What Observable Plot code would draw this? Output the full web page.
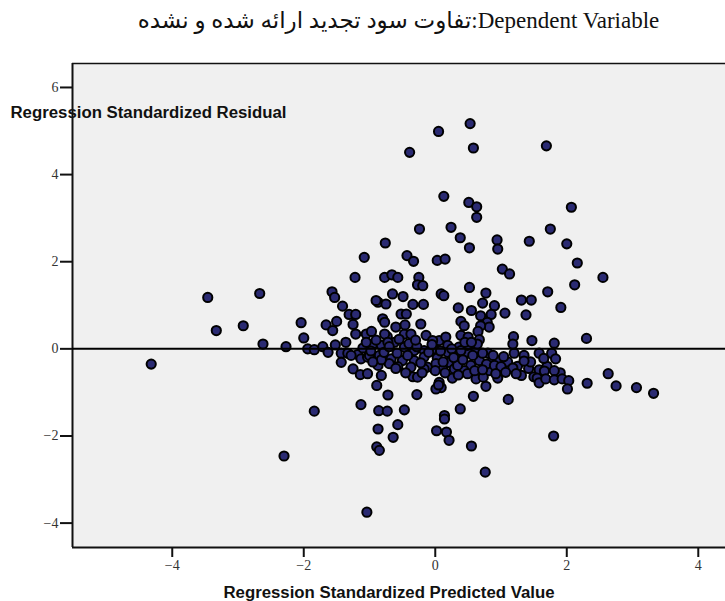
<!DOCTYPE html>
<html>
<head>
<meta charset="utf-8">
<script src="https://cdn.jsdelivr.net/npm/d3@7"></script>
<script src="https://cdn.jsdelivr.net/npm/@observablehq/plot@0.6"></script>
<style>
  html, body { margin: 0; padding: 0; background: #fff; }
  #title {
    height: 40px; line-height: 42px; box-sizing: border-box;
    padding-left: 72px; text-align: center; direction: ltr;
    font-family: "Liberation Serif", "DejaVu Serif", "DejaVu Sans", serif;
    font-size: 23px; color: #111; white-space: nowrap;
  }
  svg { display: block; }
</style>
</head>
<body>
<div id="title"></div>
<div id="chart"></div>
<script>
const titleText = "تفاوت سود تجدید ارائه شده و نشده:Dependent Variable";
const xLabel = "Regression Standardized Predicted Value";
const yLabel = "Regression Standardized Residual";
const xTicks = [-4, -2, 0, 2, 4];
const yTicks = [-4, -2, 0, 2, 4, 6];
const xDomain = [-5.517, 4.414];
const yDomain = [-4.56, 6.55];

// [predicted, residual] pairs, read region by region
const leftPoints = [
  [-4.32,-0.35],[-3.46,1.18],[-3.33,0.42],[-2.92,0.53],[-2.67,1.27],[-2.62,0.11],[-2.27,0.05],[-2.30,-2.46],
  [-2.04,0.60],[-2.00,0.25],[-1.84,-1.43],[-1.94,0.00],[-1.84,-0.02],[-1.71,0.05],[-1.63,-0.08],[-1.66,0.55],
  [-1.56,0.42],[-1.50,0.63],[-1.52,0.09],[-1.43,-0.10],[-1.43,-0.31],[-1.36,0.15],[-1.33,-0.10],[-1.25,-0.46],
  [-1.14,-0.59],[-1.41,0.98],[-1.31,0.79],[-1.21,0.79],[-1.25,0.56],[-1.21,0.34],[-1.57,1.31],[-1.53,1.18],
  [-1.18,-0.13],[-1.28,-0.15],[-1.13,-1.28],[-1.04,-3.75],[-1.22,1.64],[-1.08,2.10]
];
const corePoints = [
  [-0.87,1.07],[-0.75,1.03],[-0.34,1.02],[-0.18,1.02],[0.35,0.94],[0.55,0.88],[0.72,1.05],[0.90,0.99],[0.69,0.76],[0.85,0.79],
  [-0.52,0.80],[-0.44,0.80],[-0.80,0.69],[-0.77,0.61],[-0.22,0.57],[0.39,0.63],[0.79,0.61],[0.82,0.50],[0.69,0.53],[0.65,0.40],
  [0.44,0.53],[-1.05,0.34],[-0.97,0.40],[-0.73,0.28],[-0.60,0.50],[-0.47,0.34],[-0.37,0.34],[-0.14,0.31],[0.06,0.19],[0.16,0.27],
  [0.39,0.31],[0.50,0.27],[0.67,0.21],[0.80,-0.10],[-0.95,0.11],[-0.82,0.08],[-0.62,0.15],[-0.47,0.04],[-0.32,-0.04],[-0.17,-0.04],
  [-0.02,0.00],[0.19,0.08],[0.36,0.04],[0.49,-0.08],[0.62,0.00],[-1.13,-0.23],[-1.03,-0.19],[-0.85,-0.15],[-0.67,-0.23],[-0.50,-0.27],
  [-0.32,-0.27],[-0.17,-0.19],[0.03,-0.21],[0.20,-0.31],[0.34,-0.19],[0.54,-0.38],[0.67,-0.27],[0.85,-0.31],[0.95,-0.27],[-0.87,-0.38],
  [-0.70,-0.34],[-0.37,-0.42],[-0.12,-0.42],[0.11,-0.42],[0.29,-0.46],[0.44,-0.50],[0.82,-0.50],[0.97,-0.50],[-1.03,-0.57],[-0.82,-0.61],
  [-0.34,-0.64],[-0.27,-0.65],[0.06,-0.77],[0.26,-0.67],[0.62,-0.69],[0.73,-0.65],[0.95,-0.67],[0.09,-0.89],[0.77,-0.86],
  [-0.46,0.55],[-0.77,0.34],[-0.04,0.19],[0.49,0.08],[0.64,0.11],[-0.72,0.15],[0.19,-0.08],[0.39,-0.04],[-1.00,-0.15],[-0.82,-0.25],
  [0.01,-0.34],[0.34,-0.38],[-0.57,-0.41],[-0.17,-0.46],[0.49,-0.57]
];
const bandPoints = [
  [-1.10,0.02],[-0.98,-0.05],[-0.90,0.20],[-0.78,-0.08],[-0.70,0.05],[-0.58,-0.10],[-0.55,0.22],[-0.42,-0.15],
  [-0.40,0.12],[-0.28,0.05],[-0.22,-0.32],[-0.10,-0.08],[-0.05,0.10],[0.08,-0.05],[0.12,-0.30],[0.25,0.00],
  [0.28,-0.20],[0.42,-0.25],[0.45,0.15],[0.57,-0.15],[0.60,-0.50],[0.72,-0.10],[0.78,-0.35],[0.88,-0.15],
  [0.93,-0.45],[-0.95,-0.30],[-0.60,-0.45],[-0.45,-0.55],[-0.20,-0.55],[0.15,-0.55],[0.35,-0.60],[1.10,-0.30],
  [1.25,-0.40],[1.42,-0.45],[1.45,-0.30],[1.70,-0.40],[1.90,-0.55],[1.20,-0.10],[-1.05,0.15],[-0.30,0.20],
  [0.00,-0.50],[0.55,0.15]
];
const upperPoints = [
  [-0.77,1.64],[-0.66,1.70],[-0.57,1.64],[-0.25,1.64],[-0.90,1.11],[-0.65,1.26],[-0.49,1.20],[-0.27,1.47],[-0.19,1.45],[0.09,1.26],
  [0.13,1.22],[0.52,1.41],[0.77,1.28],
  [0.53,5.17],[0.05,4.99],[0.58,4.61],[-0.39,4.51],[0.13,3.50],[0.51,3.36],[0.63,3.26],[0.63,3.02],[-0.24,2.75],[0.24,2.79],
  [0.38,2.55],[0.52,2.32],[0.94,2.50],[0.95,2.29],[1.43,2.47],[-0.76,2.43],[-0.43,2.14],[-0.33,2.01],[0.03,2.03],[0.15,2.06],
  [1.02,1.83],[1.13,1.72],[1.69,4.66],[2.07,3.25],[1.75,2.75],[2.00,2.41],[2.16,1.97],[2.55,1.64],[2.12,1.47],[1.71,1.31],
  [1.31,1.12],[1.46,1.12],[1.38,0.78],[1.06,0.82],[1.91,0.95]
];
const lowerPoints = [
  [-0.89,-0.84],[-0.72,-1.06],[-0.86,-1.42],[-0.73,-1.43],[-0.47,-1.40],[-0.57,-1.74],[-0.87,-1.84],[-0.64,-2.03],[-0.89,-2.25],
  [-0.85,-2.33],[-0.28,-1.05],[0.01,-0.92],[0.05,-0.83],[0.14,-1.53],[0.14,-1.61],[0.02,-1.88],[0.17,-1.91],[0.21,-2.10],
  [0.38,-1.38],[0.58,-1.09],[0.55,-2.23],[0.76,-2.83],[1.11,-1.16],[1.80,-2.00]
];
const rightPoints = [
  [1.19,0.28],[1.18,0.11],[1.47,0.19],[1.81,0.13],[2.30,0.24],[1.04,-0.18],[1.35,-0.15],[1.35,-0.28],[1.58,-0.10],[1.65,-0.22],
  [1.77,-0.10],[1.83,-0.23],[0.90,-0.38],[1.00,-0.41],[1.18,-0.44],[1.31,-0.61],[1.50,-0.64],[1.58,-0.48],[1.66,-0.51],[1.81,-0.50],
  [1.55,-0.67],[1.58,-0.78],[1.68,-0.69],[1.81,-0.71],[1.93,-0.69],[2.03,-0.73],[2.01,-0.92],[2.31,-0.79],[2.63,-0.57],[2.75,-0.85],
  [3.06,-0.89],[3.32,-1.02],[0.92,-0.57],[1.07,-0.54],[1.23,-0.57],[0.72,-0.48]
];

document.getElementById("title").textContent = titleText;

const data = [...leftPoints, ...corePoints, ...bandPoints, ...upperPoints, ...lowerPoints, ...rightPoints]
  .map(([p, r]) => ({predicted: p, residual: r}));

const chart = Plot.plot({
  width: 725,
  height: 561,
  marginLeft: 72,
  marginRight: 0,
  marginTop: 23,
  marginBottom: 54,
  x: {domain: xDomain},
  y: {domain: yDomain},
  style: {fontFamily: "'Liberation Serif', serif", fontSize: "14px", color: "#333", background: "#fff", overflow: "visible"},
  marks: [
    Plot.frame({fill: "#f0f0f0", stroke: "none"}),
    Plot.axisX(xTicks, {tickSize: 10, tickPadding: 3, strokeWidth: 2, stroke: "#111", label: null, fontSize: 14}),
    Plot.axisY(yTicks, {tickSize: 12, tickPadding: 2, strokeWidth: 2, stroke: "#111", label: null, fontSize: 14}),
    Plot.ruleX([xDomain[0]], {stroke: "#111", strokeWidth: 2}),
    Plot.ruleY([yDomain[0]], {stroke: "#111", strokeWidth: 2}),
    Plot.ruleY([yDomain[1]], {stroke: "#111", strokeWidth: 1.5}),
    Plot.dot(data, {x: "predicted", y: "residual", r: 4.6, fill: "#2a2a72", stroke: "#000", strokeWidth: 2}),
    Plot.ruleY([0], {stroke: "#000", strokeWidth: 2}),
    Plot.text([xLabel], {frameAnchor: "bottom", lineAnchor: "middle", dx: -10, dy: 45,
      fontFamily: "'Liberation Sans', Arial, sans-serif", fontWeight: "bold", fontSize: 16.8, fill: "#111"}),
    Plot.text([yLabel], {frameAnchor: "top-left", lineAnchor: "middle", textAnchor: "start", dx: -62, dy: 49,
      fontFamily: "'Liberation Sans', Arial, sans-serif", fontWeight: "bold", fontSize: 16.8, fill: "#111"})
  ]
});
document.getElementById("chart").appendChild(chart);
</script>
</body>
</html>
